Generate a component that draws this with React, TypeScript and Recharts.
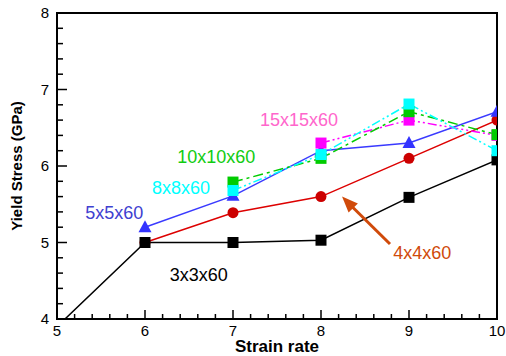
import React from 'react';
import { LineChart, Line, XAxis, YAxis, ReferenceArea, ReferenceDot, ReferenceLine } from 'recharts';

const strainRates = [5, 6, 7, 8, 9, 10];
const s3x3 = [3.9, 5.0, 5.0, 5.03, 5.59, 6.08];
const s4x4 = [null, 5.0, 5.39, 5.6, 6.1, 6.6];
const s5x5 = [null, 5.2, 5.61, 6.2, 6.3, 6.71];
const s8x8 = [null, null, 5.68, 6.15, 6.81, 6.2];
const s10x10 = [null, null, 5.79, 6.1, 6.71, 6.41];
const s15x15 = [null, null, null, 6.3, 6.6, 6.4];

const xTicks = [5, 5.2, 5.4, 5.6, 5.8, 6, 6.2, 6.4, 6.6, 6.8, 7, 7.2, 7.4, 7.6, 7.8, 8, 8.2, 8.4, 8.6, 8.8, 9, 9.2, 9.4, 9.6, 9.8, 10];
const yTicks = [4, 4.2, 4.4, 4.6, 4.8, 5, 5.2, 5.4, 5.6, 5.8, 6, 6.2, 6.4, 6.6, 6.8, 7, 7.2, 7.4, 7.6, 7.8, 8];

// series labels placed in data coordinates
const labelText = ['15x15x60', '10x10x60', '8x8x60', '5x5x60', '3x3x60', '4x4x60'];
const labelX = [7.75, 6.81, 6.41, 5.65, 6.61, 9.15];
const labelY = [6.6, 6.12, 5.71, 5.39, 4.575, 4.86];
const labelColor = ['#ff66cc', '#11cc11', '#00ffff', '#4040d0', '#000000', '#d04a0a'];

// arrow pointing at the 4x4x60 curve
const arrowTail = { x: 8.784, y: 4.98 };
const arrowBase = { x: 8.334, y: 5.49 };
const arrowTip = { x: 8.239, y: 5.6 };

const data = strainRates.map((rate, i) => ({
  rate,
  s3: s3x3[i],
  s4: s4x4[i],
  s5: s5x5[i],
  s8: s8x8[i],
  s10: s10x10[i],
  s15: s15x15[i],
}));

const FONT = '"Liberation Sans", Arial, sans-serif';

const isMajor = (v: number) => Math.abs(v - Math.round(v)) < 1e-6;

const XTick = (props: any) => {
  const { x, y, payload } = props;
  const major = isMajor(payload.value);
  return (
    <g>
      <line x1={x} x2={x} y1={y} y2={y - (major ? 9 : 5)} stroke="#000" strokeWidth={1.5} />
      {major && (
        <text x={x} y={y + 17} textAnchor="middle" fontSize={15} fontFamily={FONT} fill="#000">
          {Math.round(payload.value)}
        </text>
      )}
    </g>
  );
};

const YTick = (props: any) => {
  const { x, y, payload } = props;
  const major = isMajor(payload.value);
  return (
    <g>
      <line x1={x} x2={x + (major ? 10 : 6)} y1={y} y2={y} stroke="#000" strokeWidth={1.5} />
      {major && (
        <text x={x - 8} y={y + 5} textAnchor="end" fontSize={15} fontFamily={FONT} fill="#000">
          {Math.round(payload.value)}
        </text>
      )}
    </g>
  );
};

const squareDot = (color: string, size = 11) => (props: any) => {
  const { cx, cy, index } = props;
  if (cx == null || cy == null) return <g key={`e${index}`} />;
  return <rect key={`d${index}`} x={cx - size / 2} y={cy - size / 2} width={size} height={size} fill={color} />;
};

const circleDot = (color: string) => (props: any) => {
  const { cx, cy, index } = props;
  if (cx == null || cy == null) return <g key={`e${index}`} />;
  return <circle key={`d${index}`} cx={cx} cy={cy} r={5.5} fill={color} />;
};

const triangleDot = (color: string) => (props: any) => {
  const { cx, cy, index } = props;
  if (cx == null || cy == null) return <g key={`e${index}`} />;
  return <polygon key={`d${index}`} points={`${cx},${cy - 7} ${cx - 6.5},${cy + 5} ${cx + 6.5},${cy + 5}`} fill={color} />;
};

const textShape = (text: string, color: string) => (props: any) => (
  <text x={props.cx} y={props.cy + 6} textAnchor="middle" fontSize={18} fontFamily={FONT} fill={color}>
    {text}
  </text>
);

const arrowHead = (props: any) => {
  const { cx, cy } = props;
  // direction from tail to tip in pixels
  const ux = -0.7;
  const uy = -0.714;
  const len = 16;
  const half = 6.5;
  const bx = cx - ux * len;
  const by = cy - uy * len;
  const px = -uy;
  const py = ux;
  return (
    <polygon
      points={`${cx},${cy} ${bx + px * half},${by + py * half} ${bx - px * half},${by - py * half}`}
      fill="#d04a0a"
    />
  );
};

const App: React.FC = () => (
  <div style={{ position: 'absolute', left: 0, top: 0, background: '#fff' }}>
    <LineChart width={506} height={356} data={data} margin={{ top: 13, right: 9, left: 0, bottom: 0 }}>
      <XAxis
        dataKey="rate"
        type="number"
        domain={[5, 10]}
        ticks={xTicks}
        interval={0}
        height={37}
        axisLine={false}
        tickLine={false}
        tickSize={0}
        tickMargin={0}
        tick={<XTick />}
        allowDataOverflow
        label={{
          content: (p: any) => (
            <text
              x={p.viewBox.x + p.viewBox.width / 2}
              y={p.viewBox.y + 33}
              textAnchor="middle"
              fontSize={17}
              fontWeight="bold"
              fontFamily={FONT}
              fill="#000"
            >
              Strain rate
            </text>
          ),
        }}
      />
      <YAxis
        type="number"
        domain={[4, 8]}
        ticks={yTicks}
        interval={0}
        width={57}
        axisLine={false}
        tickLine={false}
        tickSize={0}
        tickMargin={0}
        tick={<YTick />}
        allowDataOverflow
        label={{
          content: (p: any) => {
            const cx = 22;
            const cy = p.viewBox.y + p.viewBox.height / 2;
            return (
              <text
                x={cx}
                y={cy}
                transform={`rotate(-90 ${cx} ${cy})`}
                textAnchor="middle"
                fontSize={15}
                fontWeight="bold"
                fontFamily={FONT}
                fill="#000"
              >
                Yield Stress (GPa)
              </text>
            );
          },
        }}
      />
      <ReferenceArea x1={5} x2={10} y1={4} y2={8} fill="none" fillOpacity={0} stroke="#000" strokeWidth={2} />

      <Line dataKey="s4" stroke="#dd0000" strokeWidth={1.5} dot={circleDot('#cc0000')} isAnimationActive={false} />
      <Line dataKey="s3" stroke="#000000" strokeWidth={1.5} dot={squareDot('#000000')} isAnimationActive={false} />
      <Line dataKey="s5" stroke="#3a3aff" strokeWidth={1.5} dot={triangleDot('#3333ff')} isAnimationActive={false} />
      <Line dataKey="s15" stroke="#ff00ff" strokeWidth={1.5} strokeDasharray="9 3 2 3 2 3" dot={squareDot('#ff00ff')} isAnimationActive={false} />
      <Line dataKey="s10" stroke="#00cc00" strokeWidth={1.5} strokeDasharray="10 4 3 4" dot={squareDot('#00cc00')} isAnimationActive={false} />
      <Line dataKey="s8" stroke="#00ffff" strokeWidth={1.5} strokeDasharray="9 3 2 3 2 3" dot={squareDot('#00ffff')} isAnimationActive={false} />

      <ReferenceLine segment={[arrowTail, arrowBase]} stroke="#d04a0a" strokeWidth={3} />
      <ReferenceDot x={arrowTip.x} y={arrowTip.y} r={0} shape={arrowHead} />

      {labelText.map((t, i) => (
        <ReferenceDot key={t} x={labelX[i]} y={labelY[i]} r={0} shape={textShape(t, labelColor[i])} />
      ))}
    </LineChart>
  </div>
);

export default App;
